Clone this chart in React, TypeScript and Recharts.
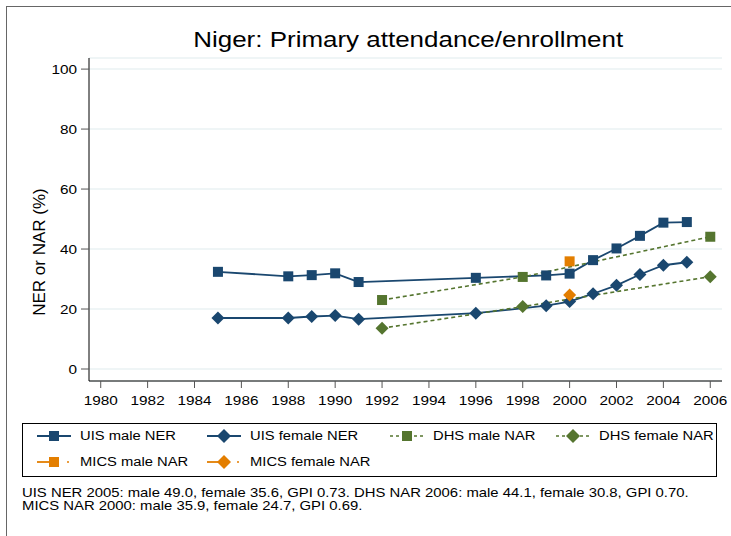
import React from 'react'
import { CartesianGrid, ComposedChart, Line, XAxis, YAxis } from 'recharts'

const NAVY = '#1a476f'
const GREEN = '#55752f'
const ORANGE = '#e37e00'
const STRETCH = 1.18

const yearTicks = [1980, 1982, 1984, 1986, 1988, 1990, 1992, 1994, 1996, 1998, 2000, 2002, 2004, 2006]
const valueTicks = [0, 20, 40, 60, 80, 100]

const uisYears = [1985, 1988, 1989, 1990, 1991, 1996, 1999, 2000, 2001, 2002, 2003, 2004, 2005]
const uisMale = [32.4, 30.9, 31.3, 31.9, 29.0, 30.4, 31.2, 31.8, 36.3, 40.2, 44.4, 48.8, 49.0]
const uisFemale = [17.0, 17.0, 17.5, 17.8, 16.6, 18.6, 21.1, 22.5, 25.1, 27.9, 31.5, 34.6, 35.6]

const dhsYears = [1992, 1998, 2006]
const dhsMale = [23.0, 30.7, 44.1]
const dhsFemale = [13.6, 20.8, 30.8]

const micsYears = [2000]
const micsMale = [35.9]
const micsFemale = [24.7]

const toRows = (years: number[], values: number[]) =>
    years.map((year, i) => ({ year, value: values[i] }))

const font = '"Liberation Sans", Arial, Helvetica, sans-serif'

const square = (color: string, size: number) => (props: any) => {
    const { cx, cy, key } = props
    if (cx == null || cy == null) return <g key={key} />
    return <rect key={key} x={cx - size / 2} y={cy - size / 2} width={size} height={size} fill={color} />
}

const diamond = (color: string, r: number) => (props: any) => {
    const { cx, cy, key } = props
    if (cx == null || cy == null) return <g key={key} />
    return (
        <polygon
            key={key}
            points={`${cx},${cy - r} ${cx + r},${cy} ${cx},${cy + r} ${cx - r},${cy}`}
            fill={color}
        />
    )
}

// stata output is a bit wider than plain Arial, so stretch the tick text
const XTick = (props: any) => {
    const { x, y, payload } = props
    return (
        <text transform={`translate(${x},${y}) scale(${STRETCH},1)`} textAnchor="middle" dy="0.71em"
            fontSize={13} fontFamily={font} fill="#000">
            {payload.value}
        </text>
    )
}

const YTick = (props: any) => {
    const { x, y, payload } = props
    return (
        <text transform={`translate(${x},${y}) scale(${STRETCH},1)`} textAnchor="end" dy="0.355em"
            fontSize={13} fontFamily={font} fill="#000">
            {payload.value}
        </text>
    )
}

interface LegendItem {
    label: string
    color: string
    marker: 'square' | 'diamond'
    style: 'solid' | 'dash' | 'dot'
    x: number
    y: number
}

const legendItems: LegendItem[] = [
    { label: 'UIS male NER', color: NAVY, marker: 'square', style: 'solid', x: 37, y: 436 },
    { label: 'UIS female NER', color: NAVY, marker: 'diamond', style: 'solid', x: 207, y: 436 },
    { label: 'DHS male NAR', color: GREEN, marker: 'square', style: 'dash', x: 390, y: 436 },
    { label: 'DHS female NAR', color: GREEN, marker: 'diamond', style: 'dash', x: 556, y: 436 },
    { label: 'MICS male NAR', color: ORANGE, marker: 'square', style: 'dot', x: 37, y: 462 },
    { label: 'MICS female NAR', color: ORANGE, marker: 'diamond', style: 'dot', x: 207, y: 462 },
]

const LegendSymbol = ({ item }: { item: LegendItem }) => {
    const w = 34
    const c = w / 2
    return (
        <svg width={w} height={14} style={{ position: 'absolute', left: item.x, top: item.y - 7 }}>
            {item.style === 'solid' && <line x1={0} y1={7} x2={w} y2={7} stroke={item.color} strokeWidth={1.8} />}
            {item.style === 'dash' && (
                <line x1={0} y1={7} x2={w} y2={7} stroke={item.color} strokeWidth={1.5} strokeDasharray="3 3" />
            )}
            {item.style === 'dot' && (
                <>
                    <line x1={0} y1={7} x2={c} y2={7} stroke={item.color} strokeWidth={1.8} />
                    <line x1={w - 4} y1={7} x2={w - 2} y2={7} stroke={item.color} strokeWidth={1.5} />
                </>
            )}
            {item.marker === 'square' ? (
                <rect x={c - 5} y={2} width={10} height={10} fill={item.color} />
            ) : (
                <polygon points={`${c},0 ${c + 7},7 ${c},14 ${c - 7},7`} fill={item.color} />
            )}
        </svg>
    )
}

const stretched = (size: number): React.CSSProperties => ({
    fontSize: size,
    transform: `scaleX(${STRETCH})`,
    transformOrigin: 'left center',
    whiteSpace: 'nowrap',
    color: '#000',
})

const App = () => {
    return (
        <div style={{ position: 'absolute', left: 0, top: 0, width: 731, height: 536, overflow: 'hidden', background: '#fff', fontFamily: font }}>
            <div style={{ position: 'absolute', left: 6, top: 6, width: 740, height: 600, border: '1px solid #666' }} />
            <div style={{ position: 'absolute', left: 0, width: 816, top: 27, textAlign: 'center' }}>
                <span style={{ display: 'inline-block', fontSize: 22, transform: `scaleX(${STRETCH})`, color: '#000' }}>
                    Niger: Primary attendance/enrollment
                </span>
            </div>
            <div
                style={{
                    position: 'absolute', left: 40, top: 252, fontSize: 17, color: '#000',
                    transform: 'translate(-50%, -50%) rotate(-90deg)', whiteSpace: 'nowrap',
                }}
            >
                NER or NAR (%)
            </div>
            <div style={{ position: 'absolute', left: 0, top: 0 }}>
                <ComposedChart width={731} height={420} margin={{ top: 58, right: 9, left: 0, bottom: 0 }}>
                    <CartesianGrid horizontal vertical={false} stroke="#eaf2f3" strokeWidth={1.5} />
                    <XAxis
                        type="number"
                        dataKey="year"
                        domain={[1979.5, 2006.5]}
                        ticks={yearTicks}
                        allowDataOverflow
                        height={39}
                        tickSize={7}
                        tickMargin={8}
                        stroke="#000"
                        tick={<XTick />}
                        tickLine={{ stroke: '#555' }}
                    />
                    <YAxis
                        type="number"
                        domain={[-4, 103.7]}
                        ticks={valueTicks}
                        allowDataOverflow
                        width={89}
                        tickSize={8}
                        tickMargin={4}
                        stroke="#000"
                        tick={<YTick />}
                        tickLine={{ stroke: '#555' }}
                    />
                    <Line data={toRows(uisYears, uisMale)} dataKey="value" stroke={NAVY} strokeWidth={1.8}
                        dot={square(NAVY, 10)} isAnimationActive={false} />
                    <Line data={toRows(uisYears, uisFemale)} dataKey="value" stroke={NAVY} strokeWidth={1.8}
                        dot={diamond(NAVY, 6.5)} isAnimationActive={false} />
                    <Line data={toRows(dhsYears, dhsMale)} dataKey="value" stroke={GREEN} strokeWidth={1.6}
                        strokeDasharray="4 3" dot={square(GREEN, 10)} isAnimationActive={false} />
                    <Line data={toRows(dhsYears, dhsFemale)} dataKey="value" stroke={GREEN} strokeWidth={1.6}
                        strokeDasharray="4 3" dot={diamond(GREEN, 6.5)} isAnimationActive={false} />
                    <Line data={toRows(micsYears, micsMale)} dataKey="value" stroke={ORANGE}
                        dot={square(ORANGE, 10)} isAnimationActive={false} />
                    <Line data={toRows(micsYears, micsFemale)} dataKey="value" stroke={ORANGE}
                        dot={diamond(ORANGE, 6.5)} isAnimationActive={false} />
                </ComposedChart>
            </div>
            <div style={{ position: 'absolute', left: 22, top: 423, width: 695, height: 54, border: '1px solid #000', boxSizing: 'border-box' }} />
            {legendItems.map(item => (
                <React.Fragment key={item.label}>
                    <LegendSymbol item={item} />
                    <div style={{ position: 'absolute', left: item.x + 43, top: item.y - 8, lineHeight: '16px', ...stretched(12.5) }}>
                        {item.label}
                    </div>
                </React.Fragment>
            ))}
            <div style={{ position: 'absolute', left: 22, top: 487, lineHeight: '13px', ...stretched(12.6) }}>
                UIS NER 2005: male 49.0, female 35.6, GPI 0.73. DHS NAR 2006: male 44.1, female 30.8, GPI 0.70.
                <br />
                MICS NAR 2000: male 35.9, female 24.7, GPI 0.69.
            </div>
        </div>
    )
}

export default App
